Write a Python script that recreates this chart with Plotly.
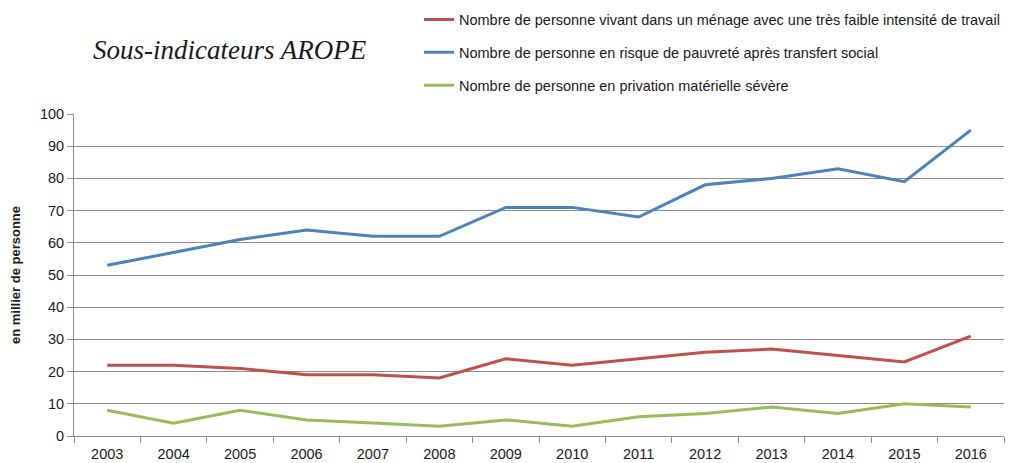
import plotly.graph_objects as go

years = [str(y) for y in range(2003, 2017)]
tres_faible_intensite = [22, 22, 21, 19, 19, 18, 24, 22, 24, 26, 27, 25, 23, 31]
risque_pauvrete = [53, 57, 61, 64, 62, 62, 71, 71, 68, 78, 80, 83, 79, 95]
privation_severe = [8, 4, 8, 5, 4, 3, 5, 3, 6, 7, 9, 7, 10, 9]

series = [
    ("Nombre de personne vivant dans un ménage avec une très faible intensité de travail",
     tres_faible_intensite, "#C0504D"),
    ("Nombre de personne en risque de pauvreté après transfert social",
     risque_pauvrete, "#4F81BD"),
    ("Nombre de personne en privation matérielle sévère",
     privation_severe, "#9BBB59"),
]

fig = go.Figure()
for i, (name, vals, color) in enumerate(series):
    fig.add_trace(go.Scatter(
        x=years, y=vals, name=name, mode="lines",
        line=dict(color=color, width=3),
        legendgroup=str(i),
    ))

plot_w = 1030 - 74 - 26
fig.update_layout(
    width=1030, height=463,
    margin=dict(l=74, r=26, t=114, b=27, autoexpand=False),
    paper_bgcolor="white", plot_bgcolor="white",
    font=dict(family="Liberation Sans, Arial, sans-serif", color="#404040"),
    showlegend=True,
    legend=dict(
        x=(419 - 74) / plot_w, y=1.343, xanchor="left", yanchor="top",
        font=dict(size=14.5, color="#1a1a1a"),
        traceorder="grouped", tracegroupgap=11,
        bgcolor="rgba(0,0,0,0)",
    ),
    annotations=[dict(
        text="Sous-indicateurs AROPE", xref="paper", yref="paper",
        x=(230 - 74) / plot_w, y=(436 - 50) / 322, xanchor="center", yanchor="middle",
        showarrow=False,
        font=dict(family="Liberation Serif, serif", size=27, color="#1a1a1a", style="italic"),
    )],
)

fig.update_xaxes(
    type="category", range=[-0.5, 13.5], tickson="boundaries", ticks="outside", ticklen=6,
    tickcolor="#8c8c8c", showline=True, linecolor="#8c8c8c", linewidth=1,
    showgrid=False, tickfont=dict(size=14.5, color="#1a1a1a"), automargin=False,
    ticklabelstandoff=5,
)
fig.update_yaxes(
    range=[0, 100], dtick=10, ticks="outside", ticklen=6, tickcolor="#8c8c8c",
    showline=True, linecolor="#8c8c8c", linewidth=1,
    showgrid=True, gridcolor="#8c8c8c", gridwidth=1, zeroline=False,
    tickfont=dict(size=14.5, color="#1a1a1a"), automargin=False,
    title=dict(text="<b>en millier de personne</b>", font=dict(size=13, color="#1a1a1a"), standoff=16),
)

fig.write_html("out.html")
